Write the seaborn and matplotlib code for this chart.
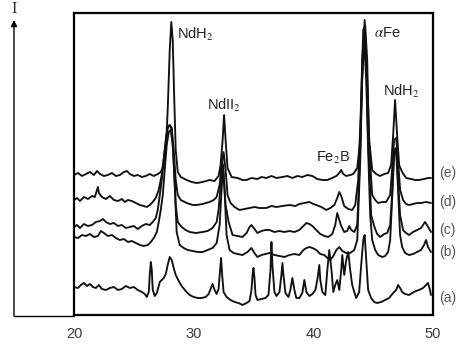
import numpy as np
import pandas as pd
import matplotlib
matplotlib.use("Agg")
import matplotlib.pyplot as plt
from matplotlib.lines import Line2D
import seaborn as sns

# ---------------- data (2-theta in degrees, intensity in arbitrary units) ----------------
theta_e = [20.00, 20.33, 20.67, 21.00, 21.33, 21.67, 21.92, 22.17, 22.50, 22.83, 23.17, 23.50, 23.83, 24.17,
           24.42, 24.67, 25.00, 25.33, 25.67, 26.00, 26.33, 26.67, 27.00, 27.25, 27.50, 27.67, 27.83, 28.00,
           28.13, 28.25, 28.38, 28.50, 28.67, 28.92, 29.42, 29.83, 30.25, 30.75, 31.33, 31.75, 32.08, 32.25,
           32.42, 32.54, 32.67, 32.83, 33.17, 33.67, 34.08, 34.42, 34.83, 35.33, 35.67, 36.08, 36.50, 36.92,
           37.42, 37.83, 38.25, 38.67, 39.08, 39.50, 39.92, 40.33, 40.75, 41.17, 41.58, 41.92, 42.17, 42.33,
           42.50, 42.75, 43.08, 43.33, 43.67, 43.92, 44.08, 44.29, 44.50, 44.67, 44.92, 45.25, 45.58, 45.92,
           46.25, 46.50, 46.67, 46.83, 47.00, 47.17, 47.42, 47.75, 48.17, 48.50, 48.83, 49.25, 49.58, 49.83]
int_e = [140, 142, 139, 141, 143, 140, 144, 141, 139, 140, 142, 139, 140, 143,
         144, 141, 139, 140, 138, 139, 141, 139, 141, 143, 150, 165, 205, 265,
         293, 275, 215, 165, 143, 138, 135, 133, 132, 133, 135, 134, 139, 150,
         175, 200, 175, 147, 138, 137, 135, 135, 137, 136, 138, 137, 139, 137,
         138, 139, 137, 139, 138, 140, 139, 136, 135, 135, 137, 139, 142, 145,
         141, 139, 140, 141, 147, 175, 235, 295, 235, 175, 145, 141, 139, 141,
         142, 150, 180, 215, 180, 150, 143, 137, 136, 135, 135, 136, 137, 137]

theta_d = [20.00, 20.25, 20.50, 20.83, 21.17, 21.50, 21.75, 21.92, 22.00, 22.08, 22.33, 22.67, 23.00, 23.33,
           23.67, 24.00, 24.25, 24.50, 24.83, 25.17, 25.50, 25.83, 26.08, 26.33, 26.58, 26.83, 27.08, 27.33,
           27.58, 27.83, 28.00, 28.17, 28.33, 28.50, 28.67, 28.92, 29.42, 29.92, 30.25, 30.75, 31.33, 31.67,
           31.92, 32.17, 32.33, 32.50, 32.67, 32.83, 33.08, 33.42, 33.83, 34.25, 34.67, 35.08, 35.50, 36.08,
           36.50, 36.92, 37.42, 38.00, 38.50, 38.83, 39.25, 39.67, 40.00, 40.25, 40.67, 41.08, 41.42, 41.75,
           42.00, 42.17, 42.33, 42.58, 42.92, 43.25, 43.50, 43.75, 44.00, 44.17, 44.33, 44.50, 44.67, 44.92,
           45.17, 45.42, 45.75, 46.08, 46.42, 46.58, 46.75, 46.92, 47.08, 47.25, 47.50, 47.75, 48.00, 48.33,
           48.67, 49.00, 49.42, 49.83]
int_d = [115, 117, 114, 118, 116, 119, 118, 125, 128, 122, 118, 116, 119, 115,
         114, 116, 113, 115, 114, 112, 110, 109, 108, 110, 113, 117, 125, 140,
         165, 188, 190, 185, 165, 135, 120, 115, 112, 110, 110, 111, 113, 115,
         118, 130, 150, 163, 145, 120, 112, 108, 105, 106, 107, 108, 107, 107,
         109, 108, 109, 110, 109, 111, 112, 113, 111, 110, 108, 105, 107, 110,
         117, 123, 119, 109, 106, 105, 110, 135, 215, 285, 290, 255, 165, 120,
         115, 112, 113, 113, 120, 145, 175, 177, 155, 125, 115, 111, 110, 111,
         112, 112, 113, 112]

theta_c = [20.00, 20.25, 20.50, 20.83, 21.17, 21.50, 21.83, 22.17, 22.42, 22.67, 23.00, 23.33, 23.67, 24.00,
           24.33, 24.67, 25.00, 25.33, 25.67, 26.00, 26.33, 26.58, 26.83, 27.00, 27.17, 27.33, 27.50, 27.67,
           27.83, 28.00, 28.17, 28.33, 28.50, 28.67, 29.00, 29.33, 29.67, 30.17, 30.75, 31.17, 31.58, 31.92,
           32.08, 32.25, 32.38, 32.50, 32.67, 32.92, 33.25, 33.67, 34.08, 34.42, 34.67, 34.83, 35.08, 35.33,
           35.67, 36.00, 36.33, 36.75, 37.17, 37.58, 38.00, 38.42, 38.83, 39.17, 39.42, 39.67, 39.92, 40.25,
           40.58, 40.92, 41.25, 41.58, 41.83, 42.00, 42.17, 42.33, 42.58, 42.83, 43.00, 43.17, 43.42, 43.67,
           43.92, 44.08, 44.25, 44.42, 44.58, 44.83, 45.08, 45.33, 45.58, 45.92, 46.17, 46.42, 46.58, 46.75,
           46.92, 47.08, 47.25, 47.50, 47.75, 48.00, 48.33, 48.67, 49.00, 49.33, 49.50, 49.83]
int_c = [88, 90, 87, 91, 89, 90, 93, 94, 96, 93, 91, 92, 89, 90,
         87, 88, 89, 86, 89, 91, 90, 93, 97, 105, 120, 135, 155, 175,
         187, 190, 187, 155, 110, 93, 88, 85, 83, 82, 83, 84, 87, 93,
         105, 130, 155, 140, 110, 93, 80, 79, 78, 82, 88, 90, 86, 82,
         84, 85, 85, 83, 84, 83, 84, 83, 85, 89, 92, 91, 89, 85,
         81, 79, 78, 81, 90, 102, 95, 89, 83, 84, 89, 85, 83, 90,
         165, 255, 285, 255, 175, 100, 89, 81, 78, 81, 82, 90, 120, 165,
         167, 135, 100, 85, 82, 80, 83, 85, 87, 93, 90, 83]

theta_b = [20.00, 20.33, 20.67, 21.00, 21.33, 21.67, 22.00, 22.25, 22.50, 22.83, 23.17, 23.50, 23.83, 24.17,
           24.50, 24.83, 25.17, 25.50, 25.83, 26.17, 26.42, 26.67, 26.92, 27.08, 27.25, 27.42, 27.58, 27.75,
           27.92, 28.08, 28.25, 28.42, 28.58, 28.83, 29.17, 29.50, 29.92, 30.33, 30.75, 31.17, 31.58, 31.92,
           32.17, 32.33, 32.46, 32.58, 32.75, 33.00, 33.33, 33.67, 34.08, 34.50, 34.83, 35.08, 35.33, 35.67,
           36.00, 36.33, 36.75, 37.17, 37.58, 38.00, 38.42, 38.83, 39.17, 39.42, 39.67, 39.92, 40.25, 40.58,
           40.92, 41.17, 41.42, 41.67, 41.92, 42.17, 42.42, 42.75, 43.08, 43.42, 43.67, 43.92, 44.08, 44.25,
           44.42, 44.58, 44.75, 44.92, 45.17, 45.42, 45.75, 46.00, 46.25, 46.42, 46.58, 46.75, 46.92, 47.08,
           47.25, 47.42, 47.67, 48.00, 48.33, 48.67, 49.00, 49.25, 49.42, 49.58, 49.83]
int_b = [78, 77, 80, 79, 81, 78, 79, 84, 82, 79, 80, 77, 75, 76,
         73, 74, 72, 70, 69, 70, 73, 77, 83, 93, 105, 120, 145, 170,
         183, 185, 170, 130, 83, 70, 67, 65, 64, 63, 63, 65, 67, 72,
         90, 125, 150, 125, 80, 65, 62, 61, 60, 63, 67, 62, 58, 60,
         61, 62, 60, 59, 58, 60, 61, 60, 65, 67, 68, 67, 65, 61,
         60, 57, 55, 59, 65, 68, 64, 62, 62, 65, 75, 155, 235, 275,
         235, 165, 100, 75, 65, 60, 58, 59, 63, 75, 115, 160, 165, 125,
         80, 68, 62, 60, 61, 63, 65, 70, 75, 68, 63]

theta_a = [20.00, 20.33, 20.58, 20.83, 21.08, 21.33, 21.58, 21.83, 22.08, 22.33, 22.67, 23.00, 23.33, 23.67,
           24.00, 24.33, 24.67, 25.00, 25.33, 25.67, 25.92, 26.08, 26.25, 26.33, 26.42, 26.50, 26.58, 26.75,
           26.92, 27.17, 27.33, 27.50, 27.67, 27.83, 28.00, 28.17, 28.33, 28.50, 28.75, 29.00, 29.33, 29.67,
           30.00, 30.33, 30.67, 31.00, 31.25, 31.42, 31.58, 31.75, 31.92, 32.08, 32.21, 32.29, 32.38, 32.50,
           32.75, 33.08, 33.42, 33.75, 34.08, 34.42, 34.67, 34.83, 34.92, 35.00, 35.08, 35.17, 35.33, 35.67,
           36.00, 36.25, 36.42, 36.50, 36.58, 36.75, 36.92, 37.17, 37.33, 37.42, 37.50, 37.67, 37.92, 38.08,
           38.25, 38.42, 38.58, 38.83, 39.08, 39.25, 39.42, 39.67, 39.92, 40.17, 40.33, 40.50, 40.58, 40.75,
           41.00, 41.17, 41.33, 41.50, 41.67, 41.83, 42.00, 42.17, 42.33, 42.42, 42.58, 42.75, 42.92, 43.08,
           43.25, 43.42, 43.58, 43.83, 44.00, 44.17, 44.29, 44.42, 44.58, 44.83, 45.08, 45.33, 45.67, 46.00,
           46.33, 46.67, 46.92, 47.08, 47.25, 47.42, 47.67, 48.00, 48.25, 48.58, 48.83, 49.17, 49.42, 49.58,
           49.75, 49.83]
int_a = [28, 27, 30, 32, 29, 31, 28, 27, 30, 26, 25, 27, 28, 25,
         26, 29, 27, 28, 25, 23, 21, 18, 23, 40, 53, 45, 25, 19,
         22, 33, 35, 37, 41, 50, 58, 55, 47, 40, 34, 29, 24, 20,
         18, 17, 17, 18, 21, 26, 31, 25, 21, 26, 45, 57, 40, 23,
         18, 15, 13, 12, 10, 12, 14, 25, 40, 47, 37, 20, 15, 16,
         17, 20, 45, 73, 50, 23, 19, 23, 40, 52, 40, 22, 18, 25,
         37, 25, 17, 17, 22, 35, 23, 19, 21, 25, 35, 50, 35, 23,
         20, 45, 65, 47, 23, 30, 35, 25, 45, 60, 40, 55, 63, 45,
         30, 23, 17, 23, 50, 75, 80, 55, 25, 17, 13, 12, 13, 15,
         17, 22, 25, 30, 27, 23, 21, 20, 22, 24, 25, 27, 30, 32,
         25, 20]

sample_names = ["(a)", "(b)", "(c)", "(d)", "(e)"]
label_levels = [17, 63, 85, 113, 142]   # intensity level of the right-hand sample labels

peak_labels = ["NdH$_2$", "NdII$_2$", "Fe$_2$B", r"$\alpha$Fe", "NdH$_2$"]
peak_label_theta = [28.62, 31.15, 40.25, 45.05, 45.85]
peak_label_int = [281, 210, 157, 282, 224]

tick_values = [20, 30, 40, 50]

# ---------------- build table ----------------
frames = []
for name, th, it in zip(sample_names,
                        [theta_a, theta_b, theta_c, theta_d, theta_e],
                        [int_a, int_b, int_c, int_d, int_e]):
    frames.append(pd.DataFrame({"two_theta": th, "intensity": it, "sample": name}))
df = pd.concat(frames, ignore_index=True)

# ---------------- plot ----------------
sns.set_style("white")
plt.rcParams["font.family"] = ["Liberation Sans", "DejaVu Sans"]
plt.rcParams["mathtext.fontset"] = "stix"

fig = plt.figure(figsize=(4.77, 3.45), dpi=100)
ax = fig.add_axes([74 / 477, 30 / 345, 359 / 477, 302 / 345])

sns.lineplot(data=df, x="two_theta", y="intensity", hue="sample", units="sample",
             estimator=None, sort=False, palette=["#111111"] * 5, linewidth=1.35,
             legend=False, ax=ax)

ax.set_xlim(20, 50)
ax.set_ylim(0, 302)
ax.set_xticks(tick_values)
ax.set_xticklabels([str(t) for t in tick_values])
ax.set_yticks([])
ax.set_xlabel("")
ax.set_ylabel("")
ax.tick_params(axis="x", length=0, pad=9, labelsize=10.5, labelcolor="#3a3a3a")
for s in ax.spines.values():
    s.set_visible(True)
    s.set_color("#000000")
    s.set_linewidth(1.6)

# peak annotations
for txt, tx, ty in zip(peak_labels, peak_label_theta, peak_label_int):
    ax.text(tx, ty, txt, fontsize=10.5, color="#222222", ha="left", va="center")

# sample labels at the right
for name, lvl in zip(sample_names, label_levels):
    ax.text(51.2, lvl, name, fontsize=10, color="#555555", ha="center", va="center",
            clip_on=False)

# intensity arrow axis on the left
fx = 14 / 477
fig.add_artist(Line2D([fx, 74 / 477], [29 / 345, 29 / 345], transform=fig.transFigure,
                      color="#000000", linewidth=1.0))
ax.annotate("", xy=(fx, (345 - 20) / 345), xytext=(fx, 29 / 345),
            xycoords="figure fraction", textcoords="figure fraction",
            arrowprops=dict(arrowstyle="-|>", color="#000000", lw=1.0,
                            mutation_scale=9, shrinkA=0, shrinkB=0))
fig.text(fx, (345 - 9) / 345, "I", fontsize=10, ha="center", va="center",
         color="#222222", family="DejaVu Serif")

fig.savefig("out.png", dpi=100)
